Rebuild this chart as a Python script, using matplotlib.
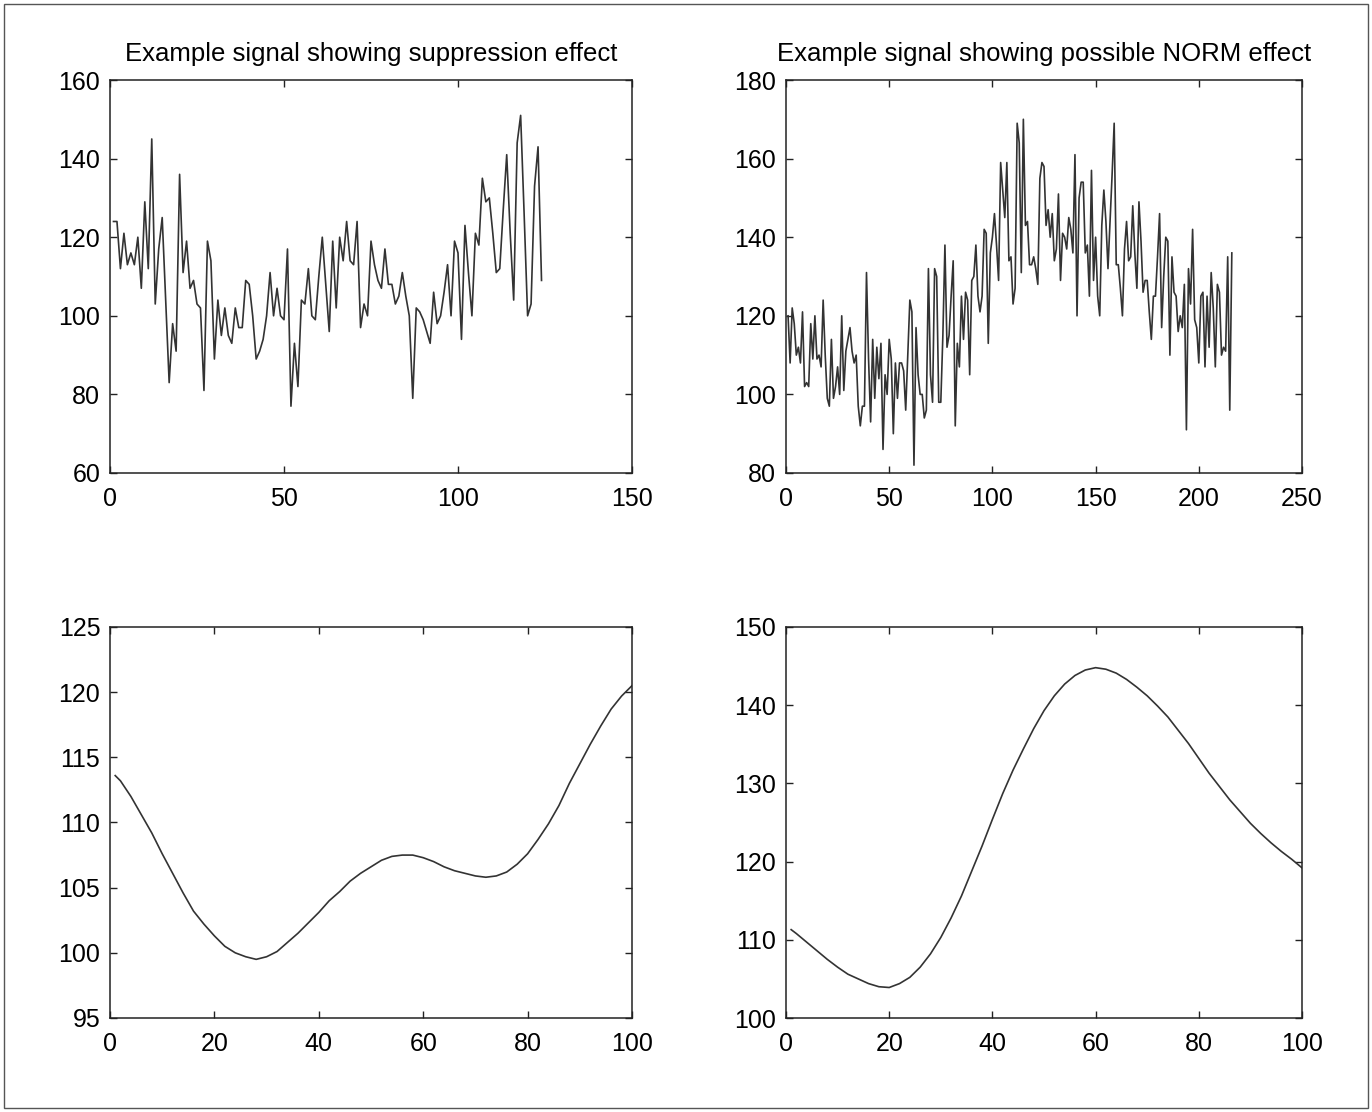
import numpy as np
import matplotlib
matplotlib.use("Agg")
import matplotlib.pyplot as plt
from matplotlib.patches import Rectangle

plt.rcParams['font.family'] = ['Liberation Sans', 'DejaVu Sans']

# ---- data ----
supp_signal = [124, 124, 112, 121, 113, 116, 113, 120, 107, 129, 112, 145, 103, 117, 125,
               104, 83, 98, 91, 136, 111, 119, 107, 109, 103, 102, 81, 119, 114, 89,
               104, 95, 102, 95, 93, 102, 97, 97, 109, 108, 100, 89, 91, 94, 100,
               111, 100, 107, 100, 99, 117, 77, 93, 82, 104, 103, 112, 100, 99, 110,
               120, 108, 96, 119, 102, 120, 114, 124, 114, 113, 124, 97, 103, 100, 119,
               113, 109, 107, 117, 108, 108, 103, 105, 111, 105, 100, 79, 102, 101, 99,
               96, 93, 106, 98, 100, 106, 113, 100, 119, 116, 94, 123, 111, 100, 121,
               118, 135, 129, 130, 121, 111, 112, 127, 141, 121, 104, 144, 151, 126, 100,
               103, 133, 143, 109]

norm_signal = [120, 108, 122, 118, 110, 112, 108, 121, 102, 103, 102, 118, 109, 120, 109,
               110, 107, 124, 110, 99, 97, 114, 99, 102, 107, 100, 120, 101, 111, 114,
               117, 111, 108, 110, 97, 92, 97, 97, 131, 109, 93, 114, 99, 112,
               104, 113, 86, 105, 100, 114, 109, 90, 108, 99, 108, 108, 106, 96, 110,
               124, 121, 82, 117, 105, 100, 100, 94, 96, 132, 105, 98, 132, 130, 98,
               98, 115, 138, 112, 115, 125, 134, 92, 113, 107, 125, 114, 126, 124, 105,
               129, 130, 138, 125, 121, 125, 142, 141, 113, 136, 140, 146, 138, 129, 159,
               152, 145, 159, 134, 135, 123, 127, 169, 164, 131, 170, 143, 144, 133, 133,
               135, 132, 128, 155, 159, 158, 143, 147, 140, 146, 134, 137, 151, 129, 141,
               140, 137, 145,
               142, 136, 161, 120, 150, 154, 154, 136, 138, 125, 157, 129, 140, 125, 120,
               143, 152, 144, 132, 144, 156, 169, 133, 133, 127, 120, 137, 144, 134, 135,
               148, 136, 127, 149, 139, 126, 129, 129, 121, 114, 125, 125, 135, 146, 117,
               130, 140, 139, 110, 135, 126, 125, 116, 120, 117, 128, 91, 132, 123, 142,
               119, 117, 108, 125, 126, 107, 125, 112, 131, 122, 107, 128, 126, 110, 112,
               111, 135, 96, 136]

smooth_x = [1] + list(range(2, 101, 2))
supp_smooth = [113.6, 113.2, 112.0, 110.6, 109.2, 107.6, 106.1, 104.6, 103.2, 102.2, 101.3,
               100.5, 100.0, 99.7, 99.5, 99.7, 100.1, 100.8, 101.5, 102.3, 103.1,
               104.0, 104.7, 105.5, 106.1, 106.6, 107.1, 107.4, 107.5, 107.5, 107.3,
               107.0, 106.6, 106.3, 106.1, 105.9, 105.8, 105.9, 106.2, 106.8, 107.6,
               108.7, 109.9, 111.3, 113.0, 114.5, 116.0, 117.4, 118.7, 119.7, 120.5]
norm_smooth = [111.3, 110.8, 109.7, 108.6, 107.5, 106.5, 105.6, 105.0, 104.4, 104.0, 103.9,
               104.4, 105.2, 106.5, 108.2, 110.3, 112.8, 115.6, 118.8, 122.0, 125.4,
               128.7, 131.7, 134.4, 137.0, 139.3, 141.2, 142.7, 143.8, 144.5, 144.8,
               144.6, 144.1, 143.3, 142.3, 141.2, 139.9, 138.5, 136.8, 135.1, 133.2,
               131.3, 129.6, 127.9, 126.4, 124.9, 123.6, 122.4, 121.3, 120.3, 119.2]

titles = ["Example signal showing suppression effect",
          "Example signal showing possible NORM effect"]

W, H = 1372, 1112
fig = plt.figure(figsize=(W / 100, H / 100), dpi=100)


def px_axes(l, t, r, b):
    return fig.add_axes([l / W, 1 - b / H, (r - l) / W, (b - t) / H])


def style(ax):
    for s in ax.spines.values():
        s.set_linewidth(1.1)
        s.set_color("#222222")
    ax.tick_params(direction="in", length=5, width=1.0, top=True, right=True,
                   labelsize=18, colors="#222222", labelcolor="black")
    ax.tick_params(axis="x", pad=10)
    ax.tick_params(axis="y", pad=7)


line_kw = dict(color="#333333", lw=1.2)

ax1 = px_axes(110, 80, 632, 473)
ax1.plot(np.arange(1, len(supp_signal) + 1), supp_signal, **line_kw)
ax1.set_xlim(0, 150); ax1.set_ylim(60, 160)
ax1.set_xticks([0, 50, 100, 150]); ax1.set_yticks([60, 80, 100, 120, 140, 160])
ax1.set_title(titles[0], fontsize=18.5, pad=14)
style(ax1)

ax2 = px_axes(786, 80, 1302, 473)
ax2.plot(np.arange(1, len(norm_signal) + 1), norm_signal, **line_kw)
ax2.set_xlim(0, 250); ax2.set_ylim(80, 180)
ax2.set_xticks([0, 50, 100, 150, 200, 250]); ax2.set_yticks([80, 100, 120, 140, 160, 180])
ax2.set_title(titles[1], fontsize=18.5, pad=14)
style(ax2)

ax3 = px_axes(110, 627, 632, 1018)
ax3.plot(smooth_x, supp_smooth, **line_kw)
ax3.set_xlim(0, 100); ax3.set_ylim(95, 125)
ax3.set_xticks([0, 20, 40, 60, 80, 100]); ax3.set_yticks([95, 100, 105, 110, 115, 120, 125])
style(ax3)

ax4 = px_axes(786, 627, 1302, 1018)
ax4.plot(smooth_x, norm_smooth, **line_kw)
ax4.set_xlim(0, 100); ax4.set_ylim(100, 150)
ax4.set_xticks([0, 20, 40, 60, 80, 100]); ax4.set_yticks([100, 110, 120, 130, 140, 150])
style(ax4)

# outer frame
fig.patches.append(Rectangle((4 / W, 4 / H), 1 - 8 / W, 1 - 8 / H, transform=fig.transFigure,
                             fill=False, ec="#555555", lw=1.0))

fig.savefig("out.png", dpi=100)
